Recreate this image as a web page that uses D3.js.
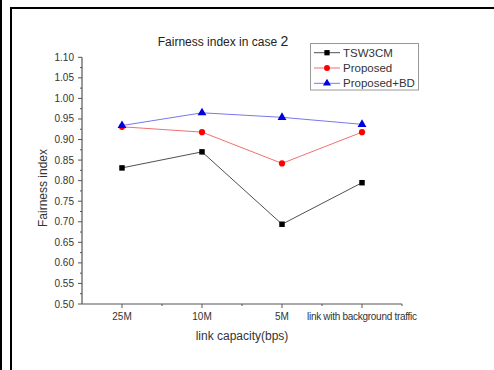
<!DOCTYPE html>
<html>
<head>
<meta charset="utf-8">
<script src="https://cdn.jsdelivr.net/npm/d3@7"></script>
<style>
  body { margin: 0; background: #fff; }
  svg { display: block; font-family: "Liberation Sans", Arial, sans-serif; }
</style>
</head>
<body>
<svg id="chart" width="494" height="370"></svg>
<script>
const categories = ["25M", "10M", "5M", "link with background traffic"];
const tsw3cm = [0.831, 0.870, 0.694, 0.795];
const proposed = [0.931, 0.918, 0.842, 0.918];
const proposedBD = [0.934, 0.965, 0.954, 0.937];
const yTicks = [0.50, 0.55, 0.60, 0.65, 0.70, 0.75, 0.80, 0.85, 0.90, 0.95, 1.00, 1.05, 1.10];

const series = [
  { name: "TSW3CM", values: tsw3cm, line: "#505050", fill: "#000", shape: d3.symbolSquare },
  { name: "Proposed", values: proposed, line: "#f07070", fill: "#f00", shape: d3.symbolCircle },
  { name: "Proposed+BD", values: proposedBD, line: "#7878f0", fill: "#0000e0", shape: d3.symbolTriangle }
];

const svg = d3.select("#chart");

// outer frame bits
svg.append("rect").attr("x", 0).attr("y", 0).attr("width", 2).attr("height", 370).attr("fill", "#000");
svg.append("path")
  .attr("d", "M11,370 V8 H494")
  .attr("fill", "none").attr("stroke", "#000").attr("stroke-width", 2);

const x = d3.scaleLinear().domain([0.5, 4.5]).range([82, 402]);
const y = d3.scaleLinear().domain([0.5, 1.1]).range([304, 57.3]);
const axisColor = "#555";

// y axis
const gy = svg.append("g").attr("transform", "translate(82,0)");
gy.append("line").attr("y1", y(0.5)).attr("y2", y(1.1)).attr("stroke", axisColor).attr("stroke-width", 1.2);
const yMinor = d3.range(0, 12).map(i => 0.525 + i * 0.05);
gy.selectAll(".ymin").data(yMinor).enter().append("line")
  .attr("x1", -2).attr("x2", 0)
  .attr("y1", d => y(d)).attr("y2", d => y(d))
  .attr("stroke", axisColor);
gy.selectAll(".ymaj").data(yTicks).enter().append("line")
  .attr("x1", -4).attr("x2", 0)
  .attr("y1", d => y(d)).attr("y2", d => y(d))
  .attr("stroke", axisColor);
gy.selectAll(".ylab").data(yTicks).enter().append("text")
  .attr("x", -8).attr("y", d => y(d)).attr("dy", "0.35em")
  .attr("text-anchor", "end").attr("font-size", 10).attr("fill", "#333")
  .text(d => d3.format(".2f")(d));

// x axis
const gx = svg.append("g");
gx.append("line").attr("x1", x(0.5)).attr("x2", x(4.5)).attr("y1", y(0.5)).attr("y2", y(0.5))
  .attr("stroke", axisColor).attr("stroke-width", 1.2);
gx.selectAll(".xmaj").data(d3.range(1, 5)).enter().append("line")
  .attr("x1", d => x(d)).attr("x2", d => x(d))
  .attr("y1", y(0.5)).attr("y2", y(0.5) + 4).attr("stroke", axisColor);
gx.selectAll(".xmin").data([1.5, 2.5, 3.5, 4.5]).enter().append("line")
  .attr("x1", d => x(d)).attr("x2", d => x(d))
  .attr("y1", y(0.5)).attr("y2", y(0.5) + 2).attr("stroke", axisColor);
gx.selectAll(".xlab").data(categories).enter().append("text")
  .attr("x", (d, i) => x(i + 1)).attr("y", 320)
  .attr("text-anchor", "middle").attr("font-size", 10).attr("fill", "#333")
  .attr("textLength", d => d.length > 10 ? 110 : null)
  .text(d => d);

// titles
svg.append("text").attr("x", 223).attr("y", 46).attr("text-anchor", "middle")
  .attr("font-size", 12).attr("fill", "#222")
  .text("Fairness index in case ").append("tspan").attr("font-size", 14).text("2");
svg.append("text").attr("x", 242).attr("y", 340).attr("text-anchor", "middle")
  .attr("font-size", 12).attr("fill", "#333").text("link capacity(bps)");
svg.append("text").attr("transform", "translate(47,188) rotate(-90)")
  .attr("text-anchor", "middle").attr("font-size", 12).attr("fill", "#333").text("Fairness index");

// series
const line = d3.line().x((d, i) => x(i + 1)).y(d => y(d));
series.forEach(s => {
  svg.append("path").datum(s.values).attr("d", line)
    .attr("fill", "none").attr("stroke", s.line).attr("stroke-width", 1);
  svg.selectAll(null).data(s.values).enter().append("path")
    .attr("transform", (d, i) => `translate(${x(i + 1)},${y(d)})`)
    .attr("d", d3.symbol().type(s.shape).size(s.shape === d3.symbolTriangle ? 34 : 30))
    .attr("fill", s.fill);
});

// legend
const lg = svg.append("g");
lg.append("rect").attr("x", 310.5).attr("y", 43.5).attr("width", 108).attr("height", 46.5)
  .attr("fill", "#fff").attr("stroke", "#999");
series.forEach((s, i) => {
  const ly = 52.7 + i * 15.3;
  lg.append("line").attr("x1", 314).attr("x2", 340).attr("y1", ly).attr("y2", ly)
    .attr("stroke", s.line);
  lg.append("path").attr("transform", `translate(327,${ly})`)
    .attr("d", d3.symbol().type(s.shape).size(28)).attr("fill", s.fill);
  lg.append("text").attr("x", 343).attr("y", ly).attr("dy", "0.36em")
    .attr("font-size", 11.5).attr("fill", "#333").text(s.name);
});
</script>
</body>
</html>
